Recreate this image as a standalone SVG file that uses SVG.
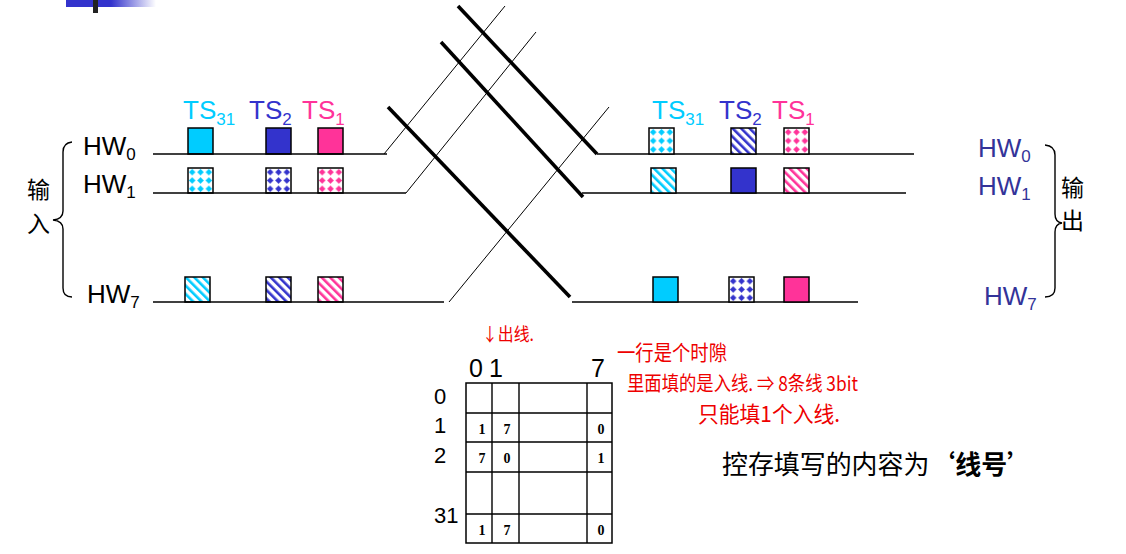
<svg xmlns="http://www.w3.org/2000/svg" width="1126" height="554" viewBox="0 0 1126 554">
<style>
.lbl{font-family:"Liberation Sans",Arial,sans-serif;font-size:26px}
.ts{font-family:"Liberation Sans",Arial,sans-serif;font-size:26px}
.cj{font-family:"Noto Sans CJK SC",sans-serif}
.ln{stroke:#000;stroke-width:1.4;fill:none}
.thin{stroke:#000;stroke-width:1;fill:none}
.thick{stroke:#000;stroke-width:3.6;fill:none}
.sq{stroke:#000;stroke-width:1.5}
.cell{font-family:"Liberation Serif","Times New Roman",serif;font-weight:bold;font-size:14px;text-anchor:middle}
.tl{font-family:"Liberation Sans",Arial,sans-serif;fill:#000}
.red{font-family:"Noto Sans CJK SC",sans-serif;fill:#EE0000}
.cyan{fill:#00CCFF}.blue{fill:#3333CC}.pink{fill:#FF3399}
</style>
<defs>
<linearGradient id="bar" x1="0" x2="1" y1="0" y2="0">
<stop offset="0" stop-color="#3333CC"/><stop offset="0.5" stop-color="#3333CC"/><stop offset="1" stop-color="#3333CC" stop-opacity="0"/>
</linearGradient>
<pattern id="dotC" patternUnits="objectBoundingBox" width="0.3333" height="0.3333"><rect width="9" height="9" fill="#fff"/><path d="M4.2,0.9 L7.5,4.2 L4.2,7.5 L0.9,4.2Z" fill="#00CCFF"/></pattern>
<pattern id="dotB" patternUnits="objectBoundingBox" width="0.3333" height="0.3333"><rect width="9" height="9" fill="#fff"/><path d="M4.2,0.9 L7.5,4.2 L4.2,7.5 L0.9,4.2Z" fill="#3333CC"/></pattern>
<pattern id="dotP" patternUnits="objectBoundingBox" width="0.3333" height="0.3333"><rect width="9" height="9" fill="#fff"/><path d="M4.2,0.9 L7.5,4.2 L4.2,7.5 L0.9,4.2Z" fill="#FF3399"/></pattern>
<pattern id="strC" patternUnits="userSpaceOnUse" width="6" height="6" patternTransform="rotate(-45)"><rect width="6" height="6" fill="#fff"/><rect width="2.6" height="6" fill="#00CCFF"/></pattern>
<pattern id="strB" patternUnits="userSpaceOnUse" width="6" height="6" patternTransform="rotate(-45)"><rect width="6" height="6" fill="#fff"/><rect width="2.6" height="6" fill="#3333CC"/></pattern>
<pattern id="strP" patternUnits="userSpaceOnUse" width="6" height="6" patternTransform="rotate(-45)"><rect width="6" height="6" fill="#fff"/><rect width="2.6" height="6" fill="#FF3399"/></pattern>
</defs>
<rect width="1126" height="554" fill="#fff"/>
<g id="titlebar">
<rect x="66" y="0" width="90" height="7" fill="url(#bar)"/>
<rect x="93" y="0" width="5" height="13" fill="#222"/>
</g>
<g id="input-labels">
<text class="lbl" x="83" y="155">HW<tspan font-size="17" dy="5">0</tspan></text>
<text class="lbl" x="83" y="193">HW<tspan font-size="17" dy="5">1</tspan></text>
<text class="lbl" x="87" y="303">HW<tspan font-size="17" dy="5">7</tspan></text>
<path class="ln" d="M72,142 Q63,143 63,152 L63,211 Q63,219 53,220 Q63,221 63,229 L63,288 Q63,297 72,297"/>
<text class="cj" x="27" y="198" font-size="23">输</text>
<text class="cj" x="27" y="232" font-size="23">入</text>
</g>
<g id="input-ts-labels">
<text class="ts cyan" x="183" y="119">TS<tspan font-size="17" dy="6">31</tspan></text>
<text class="ts blue" x="249" y="119">TS<tspan font-size="17" dy="6">2</tspan></text>
<text class="ts pink" x="302" y="119">TS<tspan font-size="17" dy="6">1</tspan></text>
</g>
<g id="input-slots">
<rect class="sq" x="188" y="128" width="25" height="26" fill="#00CCFF"/>
<rect class="sq" x="266" y="128" width="25" height="26" fill="#3333CC"/>
<rect class="sq" x="318" y="128" width="25" height="26" fill="#FF3399"/>
<rect class="sq" x="188" y="168" width="25" height="25" fill="url(#dotC)"/>
<rect class="sq" x="266" y="168" width="25" height="25" fill="url(#dotB)"/>
<rect class="sq" x="318" y="168" width="25" height="25" fill="url(#dotP)"/>
<rect class="sq" x="185" y="277" width="25" height="25" fill="url(#strC)"/>
<rect class="sq" x="266" y="277" width="25" height="25" fill="url(#strB)"/>
<rect class="sq" x="318" y="277" width="25" height="25" fill="url(#strP)"/>
</g>
<g id="connectors">
<line class="ln" x1="153" y1="154" x2="387" y2="154"/>
<line class="ln" x1="153" y1="193" x2="406" y2="193"/>
<line class="ln" x1="153" y1="302" x2="444" y2="302"/>
<line class="thin" x1="384" y1="154" x2="505" y2="6"/>
<line class="thin" x1="406" y1="193" x2="536" y2="32"/>
<line class="thin" x1="449" y1="302" x2="609" y2="107"/>
<line class="thick" x1="458" y1="6" x2="597" y2="154"/>
<line class="thick" x1="441" y1="42" x2="583" y2="197"/>
<line class="thick" x1="388" y1="107" x2="570" y2="297"/>
<line class="ln" x1="597" y1="154" x2="914" y2="154"/>
<line class="ln" x1="582" y1="193" x2="906" y2="193"/>
<line class="ln" x1="572" y1="302" x2="858" y2="302"/>
</g>
<g id="output-ts-labels">
<text class="ts cyan" x="652" y="119">TS<tspan font-size="17" dy="6">31</tspan></text>
<text class="ts blue" x="719" y="119">TS<tspan font-size="17" dy="6">2</tspan></text>
<text class="ts pink" x="772" y="119">TS<tspan font-size="17" dy="6">1</tspan></text>
</g>
<g id="output-slots">
<rect class="sq" x="649" y="128" width="25" height="26" fill="url(#dotC)"/>
<rect class="sq" x="731" y="128" width="25" height="26" fill="url(#strB)"/>
<rect class="sq" x="784" y="128" width="25" height="26" fill="url(#dotP)"/>
<rect class="sq" x="651" y="168" width="25" height="25" fill="url(#strC)"/>
<rect class="sq" x="731" y="168" width="25" height="25" fill="#3333CC"/>
<rect class="sq" x="784" y="168" width="25" height="25" fill="url(#strP)"/>
<rect class="sq" x="653" y="277" width="25" height="25" fill="#00CCFF"/>
<rect class="sq" x="729" y="277" width="25" height="25" fill="url(#dotB)"/>
<rect class="sq" x="784" y="277" width="25" height="25" fill="#FF3399"/>
</g>
<g id="output-labels">
<text class="lbl" x="978" y="157" fill="#333399">HW<tspan font-size="17" dy="5">0</tspan></text>
<text class="lbl" x="978" y="195" fill="#333399">HW<tspan font-size="17" dy="5">1</tspan></text>
<text class="lbl" x="984" y="305" fill="#333399">HW<tspan font-size="17" dy="5">7</tspan></text>
<path class="ln" d="M1045,145 Q1055,146 1055,155 L1055,214 Q1055,222 1062,223 Q1055,224 1055,232 L1055,288 Q1055,297 1045,297"/>
<text class="cj" x="1061" y="196" font-size="23">输</text>
<text class="cj" x="1061" y="229" font-size="23">出</text>
</g>
<g id="control-memory">
<rect x="466" y="383" width="146" height="160" fill="none" stroke="#000" stroke-width="1.5"/>
<path class="ln" d="M492,383 V543 M519,383 V543 M587,383 V543 M466,413 H612 M466,442 H612 M466,472 H612 M466,514 H612"/>
<text class="tl" x="469" y="377" font-size="25">0</text>
<text class="tl" x="489" y="377" font-size="25">1</text>
<text class="tl" x="591" y="377" font-size="25">7</text>
<text class="tl" x="434" y="404" font-size="22">0</text>
<text class="tl" x="434" y="433" font-size="22">1</text>
<text class="tl" x="434" y="463" font-size="22">2</text>
<text class="tl" x="434" y="523" font-size="22">31</text>
<text class="cell" x="482" y="434">1</text><text class="cell" x="507" y="434">7</text><text class="cell" x="601" y="434">0</text>
<text class="cell" x="482" y="463">7</text><text class="cell" x="507" y="463">0</text><text class="cell" x="601" y="463">1</text>
<text class="cell" x="482" y="535">1</text><text class="cell" x="507" y="535">7</text><text class="cell" x="601" y="535">0</text>
</g>
<g id="caption">
<text class="cj" x="722" y="474" font-size="26" textLength="311" lengthAdjust="spacingAndGlyphs">控存填写的内容为<tspan font-weight="bold">‘线号’</tspan></text>
</g>
<g id="notes">
<text class="red" x="482" y="341" font-size="18" textLength="52" lengthAdjust="spacingAndGlyphs">↓出线.</text>
<text class="red" x="617" y="360" font-size="21" textLength="110" lengthAdjust="spacingAndGlyphs">一行是个时隙</text>
<text class="red" x="627" y="391" font-size="20" textLength="231" lengthAdjust="spacingAndGlyphs">里面填的是入线. ⇒ 8条线 3bit</text>
<text class="red" x="698" y="422" font-size="22" textLength="142" lengthAdjust="spacingAndGlyphs">只能填1个入线.</text>
</g>
</svg>
